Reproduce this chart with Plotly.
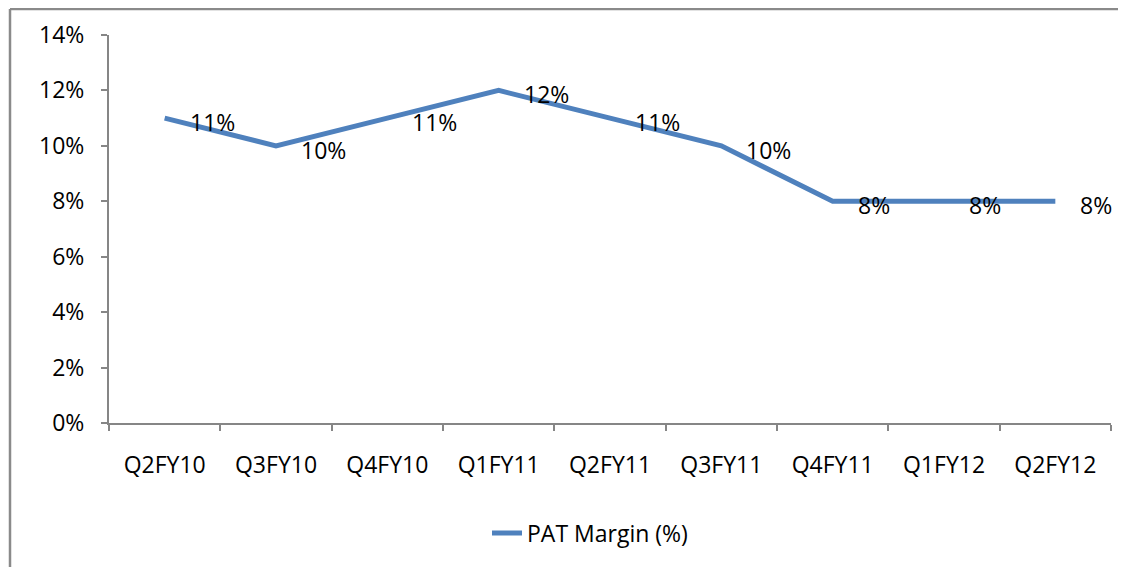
import plotly.graph_objects as go

quarters = ["Q2FY10", "Q3FY10", "Q4FY10", "Q1FY11", "Q2FY11", "Q3FY11", "Q4FY11", "Q1FY12", "Q2FY12"]
pat_margin = [0.11, 0.10, 0.11, 0.12, 0.11, 0.10, 0.08, 0.08, 0.08]
y_ticks = [0, 0.02, 0.04, 0.06, 0.08, 0.10, 0.12, 0.14]
series_name = "PAT Margin (%)"

FONT = "Open Sans, Noto Sans, sans-serif"
FS = 23
AXIS_COLOR = "#868686"

fig = go.Figure()
fig.add_trace(go.Scatter(
    x=quarters, y=pat_margin, mode="lines", name=series_name,
    line=dict(color="#4F81BD", width=5),
))

for q, v in zip(quarters, pat_margin):
    fig.add_annotation(
        x=q, y=v, text=f"{v*100:.0f}%", showarrow=False,
        xanchor="left", yanchor="middle", xshift=23, yshift=-4,
        font=dict(family=FONT, size=FS, color="black"),
    )

# page body has an 8px margin; figure coordinates are offset accordingly
W, H = 1126, 567
OFF = 8
L, R, T, B = 109 - OFF, 23, 35 - OFF, 152
pw, ph = W - L - R, H - T - B

def px_x(p):
    return (p - OFF - L) / pw

def px_y(p):
    return (H - B - (p - OFF)) / ph

fig.add_shape(type="line", xref="paper", yref="paper",
              x0=px_x(10), x1=px_x(1140), y0=px_y(9), y1=px_y(9),
              line=dict(color="#8a8a8a", width=2.5))
fig.add_shape(type="line", xref="paper", yref="paper",
              x0=px_x(10), x1=px_x(10), y0=px_y(9), y1=px_y(580),
              line=dict(color="#8a8a8a", width=2.5))

fig.update_layout(
    width=W, height=H,
    margin=dict(l=L, r=R, t=T, b=B, autoexpand=False),
    paper_bgcolor="white", plot_bgcolor="white",
    font=dict(family=FONT, size=FS, color="black"),
    showlegend=True,
    legend=dict(orientation="h", x=px_x(590), xanchor="center", y=px_y(533), yanchor="middle",
                font=dict(family=FONT, size=FS, color="black"), bgcolor="rgba(0,0,0,0)"),
)
fig.update_xaxes(
    type="category", range=[-0.5, len(quarters) - 0.5], automargin=False,
    showgrid=False, showline=True, linecolor=AXIS_COLOR, linewidth=2,
    ticks="outside", tickson="boundaries", ticklen=6, tickcolor=AXIS_COLOR, tickwidth=2,
    ticklabelstandoff=20, tickfont=dict(family=FONT, size=FS, color="black"),
    zeroline=False,
)
fig.update_yaxes(
    range=[0, 0.14], tickvals=y_ticks, tickformat=".0%", automargin=False, showgrid=False,
    showline=True, linecolor=AXIS_COLOR, linewidth=2,
    ticks="outside", ticklen=6, tickcolor=AXIS_COLOR, tickwidth=2,
    ticklabelstandoff=12, tickfont=dict(family=FONT, size=FS, color="black"),
    zeroline=False,
)

fig.write_html("out.html")
